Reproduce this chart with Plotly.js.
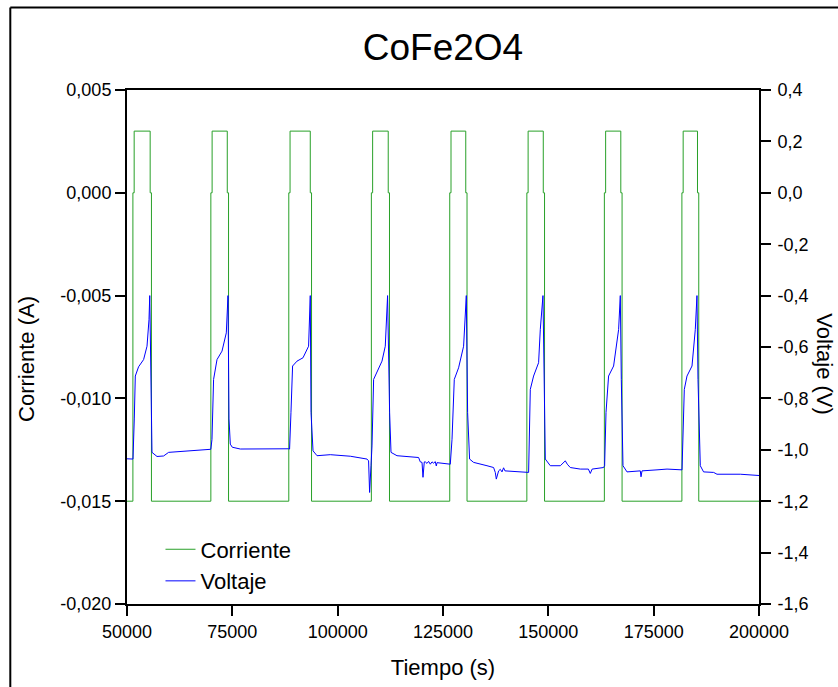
<!DOCTYPE html>
<html>
<head>
<meta charset="utf-8">
<script src="https://cdn.plot.ly/plotly-3.0.1.min.js"></script>
<style>html,body{margin:0;padding:0;background:#fff;}#chart{width:838px;height:687px;}</style>
</head>
<body>
<div id="chart"></div>
<script>
// ---- Data ----
const chartTitle = "CoFe2O4";
const xTitle = "Tiempo (s)";
const yTitleLeft = "Corriente (A)";
const yTitleRight = "Voltaje (V)";
const seriesNames = ["Corriente", "Voltaje"];

// Current (A), step trace (value holds until next time)
const timeCurrent = [50000,
  51400, 51700, 55500, 55800,
  69900, 70200, 73800, 74100,
  88400, 88700, 93500, 93800,
  108000, 108300, 112000, 112300,
  126600, 126900, 130400, 130700,
  144900, 145200, 148800, 149100,
  163300, 163600, 167200, 167500,
  181700, 182000, 185400, 185700,
  200000];
const current = [-0.015,
  0, 0.003, 0, -0.015,
  0, 0.003, 0, -0.015,
  0, 0.003, 0, -0.015,
  0, 0.003, 0, -0.015,
  0, 0.003, 0, -0.015,
  0, 0.003, 0, -0.015,
  0, 0.003, 0, -0.015,
  0, 0.003, 0, -0.015,
  -0.015];

// Voltage (V)
const timeVoltage = [50000, 51300,
  51420, 51730, 51970, 52750, 53940, 54750, 55220, 55400, 55770, 55930, 57120, 58690, 59870, 64240, 69890,
  70170, 70550, 71360, 72550, 73570, 73970, 74210, 74520, 74990, 76890, 88360,
  88590, 88920, 89300, 90350, 91770, 93100, 93500, 93670, 94150, 95100, 98250, 103000, 106960, 107340, 107580, 107910, 108150,
  108530, 109330, 110520, 111300, 111850, 112330, 112660, 114080, 119210, 119610, 120020, 120250, 120560, 120800, 121200, 121580, 121990, 122390, 122770, 123170, 123410, 123580, 126330,
  126730, 127140, 127680, 128700, 129890, 130530, 130840, 131310, 132260, 135440, 137010, 137410, 137650, 138200, 138600, 139000, 139380, 139700, 144940,
  145320, 145720, 146500, 147690, 148090, 148730, 149040, 149280, 150470, 152840, 154030, 154500, 155210, 157590, 159500, 159960, 160400, 163120,
  163360, 163690, 164300, 165490, 166680, 167080, 167320, 167720, 168670, 171830, 172000, 172230, 175790, 178170, 181730,
  181960, 182270, 182910, 184100, 184880, 185280, 185520, 186070, 186850, 189230, 190030, 195560, 200000];
const voltage = [-1.035, -1.036,
  -1.036, -0.880, -0.713, -0.677, -0.649, -0.597, -0.494, -0.400, -0.720, -1.010, -1.026, -1.024, -1.010, -1.004, -0.998,
  -0.960, -0.726, -0.649, -0.616, -0.545, -0.400, -0.880, -0.978, -0.990, -0.997, -0.996,
  -0.997, -0.854, -0.674, -0.655, -0.642, -0.597, -0.400, -0.854, -1.004, -1.023, -1.019, -1.025, -1.036, -1.043, -1.166, -1.062, -0.985,
  -0.726, -0.700, -0.655, -0.597, -0.400, -0.855, -1.010, -1.023, -1.030, -1.047, -1.049, -1.107, -1.047, -1.047, -1.053, -1.045, -1.056, -1.047, -1.052, -1.046, -1.063, -1.050, -1.053,
  -1.056, -0.959, -0.726, -0.681, -0.597, -0.400, -0.855, -1.036, -1.049, -1.062, -1.069, -1.088, -1.114, -1.082, -1.076, -1.086, -1.070, -1.082, -1.086,
  -1.088, -0.765, -0.713, -0.661, -0.532, -0.400, -0.855, -1.036, -1.062, -1.062, -1.043, -1.056, -1.069, -1.075, -1.075, -1.092, -1.075, -1.069,
  -1.062, -0.855, -0.713, -0.674, -0.532, -0.400, -0.726, -1.062, -1.086, -1.082, -1.105, -1.082, -1.078, -1.075, -1.078,
  -0.959, -0.765, -0.713, -0.674, -0.532, -0.400, -0.726, -1.062, -1.086, -1.088, -1.095, -1.095, -1.100];

// Tick labels
const xTickVals = [50000, 75000, 100000, 125000, 150000, 175000, 200000];
const xTickText = ["50000", "75000", "100000", "125000", "150000", "175000", "200000"];
const yLeftTickVals = [0.005, 0, -0.005, -0.010, -0.015, -0.020];
const yLeftTickText = ["0,005", "0,000", "-0,005", "-0,010", "-0,015", "-0,020"];
const yRightTickVals = [0.4, 0.2, 0, -0.2, -0.4, -0.6, -0.8, -1.0, -1.2, -1.4, -1.6];
const yRightTickText = ["0,4", "0,2", "0,0", "-0,2", "-0,4", "-0,6", "-0,8", "-1,0", "-1,2", "-1,4", "-1,6"];

// ---- Chart ----
const FONT = "Liberation Sans, Arial, sans-serif";
const traces = [
  {x: timeCurrent, y: current, name: seriesNames[0], type: "scatter", mode: "lines",
   line: {color: "rgb(40,160,40)", width: 1, shape: "hv"}, yaxis: "y"},
  {x: timeVoltage, y: voltage, name: seriesNames[1], type: "scatter", mode: "lines",
   line: {color: "#0000ff", width: 1}, yaxis: "y2"}
];

const axisCommon = {
  showgrid: false, zeroline: false, showline: true, linecolor: "#000", linewidth: 2,
  ticks: "outside", ticklen: 10, tickwidth: 2, tickcolor: "#000",
  tickfont: {family: FONT, size: 18, color: "#000"}, tickmode: "array"
};

const layout = {
  width: 838, height: 687,
  paper_bgcolor: "#fff", plot_bgcolor: "#fff",
  font: {family: FONT, color: "#000"},
  margin: {l: 127, r: 79, t: 90, b: 83, pad: 0},
  showlegend: true,
  title: {text: chartTitle, font: {family: FONT, size: 37, color: "#000"},
          x: 0.5, xref: "paper", xanchor: "center", y: 1 - 47/687, yref: "container", yanchor: "middle"},
  xaxis: Object.assign({}, axisCommon, {
    range: [50000, 200000], tickvals: xTickVals, ticktext: xTickText, mirror: true,
    title: {text: xTitle, font: {family: FONT, size: 22, color: "#000"}, standoff: 19}
  }),
  yaxis: Object.assign({}, axisCommon, {
    range: [-0.020, 0.005], tickvals: yLeftTickVals, ticktext: yLeftTickText, ticklabelstandoff: 0
  }),
  yaxis2: Object.assign({}, axisCommon, {
    range: [-1.6, 0.4], tickvals: yRightTickVals, ticktext: yRightTickText,
    overlaying: "y", side: "right", ticklabelstandoff: 3
  }),
  legend: {x: 0.053, xanchor: "left", y: 0.075, yanchor: "middle",
           bgcolor: "rgba(0,0,0,0)", borderwidth: 0,
           font: {family: FONT, size: 22, color: "#000"}},
  annotations: [
    {text: yTitleLeft, xref: "paper", yref: "paper", x: (26 - 126.7)/632, y: (604.3 - 359)/513.8,
     xanchor: "center", yanchor: "middle", textangle: -90, showarrow: false,
     font: {family: FONT, size: 22, color: "#000"}},
    {text: yTitleRight, xref: "paper", yref: "paper", x: (824 - 126.7)/632, y: (604.3 - 365)/513.8,
     xanchor: "center", yanchor: "middle", textangle: 90, showarrow: false,
     font: {family: FONT, size: 22, color: "#000"}}
  ],
  shapes: [
    {type: "line", xref: "paper", yref: "paper", x0: (10 - 126.7)/632, x1: (10 - 126.7)/632,
     y0: (604.3 - 8)/513.8, y1: (604.3 - 700)/513.8, line: {color: "#000", width: 2}},
    {type: "line", xref: "paper", yref: "paper", x0: (10 - 126.7)/632, x1: (850 - 126.7)/632,
     y0: (604.3 - 8)/513.8, y1: (604.3 - 8)/513.8, line: {color: "#000", width: 2}}
  ]
};

Plotly.newPlot("chart", traces, layout, {displayModeBar: false, staticPlot: true});
</script>
</body>
</html>
